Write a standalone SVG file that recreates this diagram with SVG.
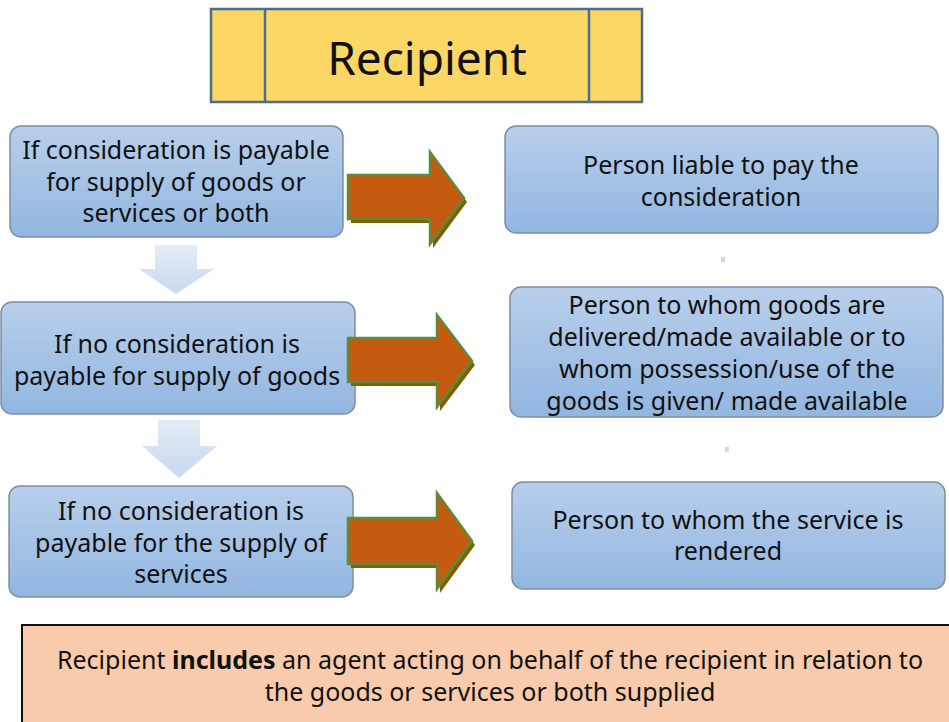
<svg xmlns="http://www.w3.org/2000/svg" width="949" height="722" viewBox="0 0 949 722">
<defs>
<linearGradient id="blue" x1="0" y1="0" x2="0" y2="1">
<stop offset="0" stop-color="#B8CFEB"/>
<stop offset="1" stop-color="#92B6E0"/>
</linearGradient>
<linearGradient id="pale" x1="0" y1="0" x2="0" y2="1">
<stop offset="0" stop-color="#E3EBF6"/>
<stop offset="1" stop-color="#C9D9EF"/>
</linearGradient>
<style>
.box{fill:url(#blue);stroke:#7E8FA5;stroke-width:1.5}
.t{font-family:"Noto Sans","Open Sans",sans-serif;font-size:25px;fill:#111;text-anchor:middle}
.n{font-size:25px}
.arrow{fill:#C55A11;stroke:#5E8B3A;stroke-width:2.5;stroke-linejoin:miter}
.shadow{fill:#7F6000}
.down{fill:url(#pale)}
</style>
</defs>
<g id="title">
<rect x="211" y="9" width="431" height="93" fill="#FDD766" stroke="#4A6E96" stroke-width="2.5"/>
<line x1="265" y1="9" x2="265" y2="102" stroke="#4A6E96" stroke-width="2.5"/>
<line x1="589" y1="9" x2="589" y2="102" stroke="#4A6E96" stroke-width="2.5"/>
<text x="427" y="75" font-family="'Noto Sans','Open Sans',sans-serif" font-size="46" text-anchor="middle" fill="#111">Recipient</text>
</g>
<g id="cond1">
<rect class="box" x="10" y="126" width="333" height="111" rx="11"/>
<text class="t" x="176" y="159">If consideration is payable</text>
<text class="t" x="176" y="191">for supply of goods or</text>
<text class="t" x="176" y="222">services or both</text>
</g>
<g id="cond2">
<rect class="box" x="1" y="302" width="354" height="112" rx="11"/>
<text class="t" x="177" y="353">If no consideration is</text>
<text class="t" x="177" y="385">payable for supply of goods</text>
</g>
<g id="cond3">
<rect class="box" x="9" y="486" width="344" height="111" rx="11"/>
<text class="t" x="181" y="520">If no consideration is</text>
<text class="t" x="181" y="552">payable for the supply of</text>
<text class="t" x="181" y="583">services</text>
</g>
<g id="res1">
<rect class="box" x="505" y="126" width="433" height="107" rx="11"/>
<text class="t" x="721" y="174">Person liable to pay the</text>
<text class="t" x="721" y="206">consideration</text>
</g>
<g id="res2">
<rect class="box" x="510" y="287" width="433" height="130" rx="11"/>
<text class="t" x="727" y="314">Person to whom goods are</text>
<text class="t" x="727" y="346">delivered/made available or to</text>
<text class="t" x="727" y="378">whom possession/use of the</text>
<text class="t" x="727" y="410">goods is given/ made available</text>
</g>
<g id="res3">
<rect class="box" x="512" y="482" width="433" height="107" rx="11"/>
<text class="t" x="728" y="529">Person to whom the service is</text>
<text class="t" x="728" y="560">rendered</text>
</g>
<g id="note">
<rect x="22" y="625" width="930" height="100" fill="#F8CBAD" stroke="#111" stroke-width="2"/>
<text class="t n" x="490" y="669">Recipient <tspan font-weight="bold">includes</tspan> an agent acting on behalf of the recipient in relation to</text>
<text class="t n" x="490" y="701">the goods or services or both supplied</text>
</g>
<g id="connectors">
<polygon class="down" points="155,245 197,245 197,269 214,269 176,294 139,269 155,269"/>
<polygon class="down" points="158,420 200,420 200,446 217,446 179,478 142,446 158,446"/>
<rect x="721" y="257" width="4" height="5" fill="#C9D9EF"/>
<rect x="725" y="447" width="4" height="5" fill="#C9D9EF"/>
<polygon class="shadow" transform="translate(3,4)" points="348,175 430,175 430,152 464,198 430,244 430,219 348,219"/>
<polygon class="arrow" points="348,175 430,175 430,152 464,198 430,244 430,219 348,219"/>
<polygon class="shadow" transform="translate(3,4)" points="348,338 437,338 437,315 472,361 437,407 437,382 348,382"/>
<polygon class="arrow" points="348,338 437,338 437,315 472,361 437,407 437,382 348,382"/>
<polygon class="shadow" transform="translate(3,4)" points="348,518 437,518 437,493 472,541 437,589 437,564 348,564"/>
<polygon class="arrow" points="348,518 437,518 437,493 472,541 437,589 437,564 348,564"/>
</g>
</svg>
